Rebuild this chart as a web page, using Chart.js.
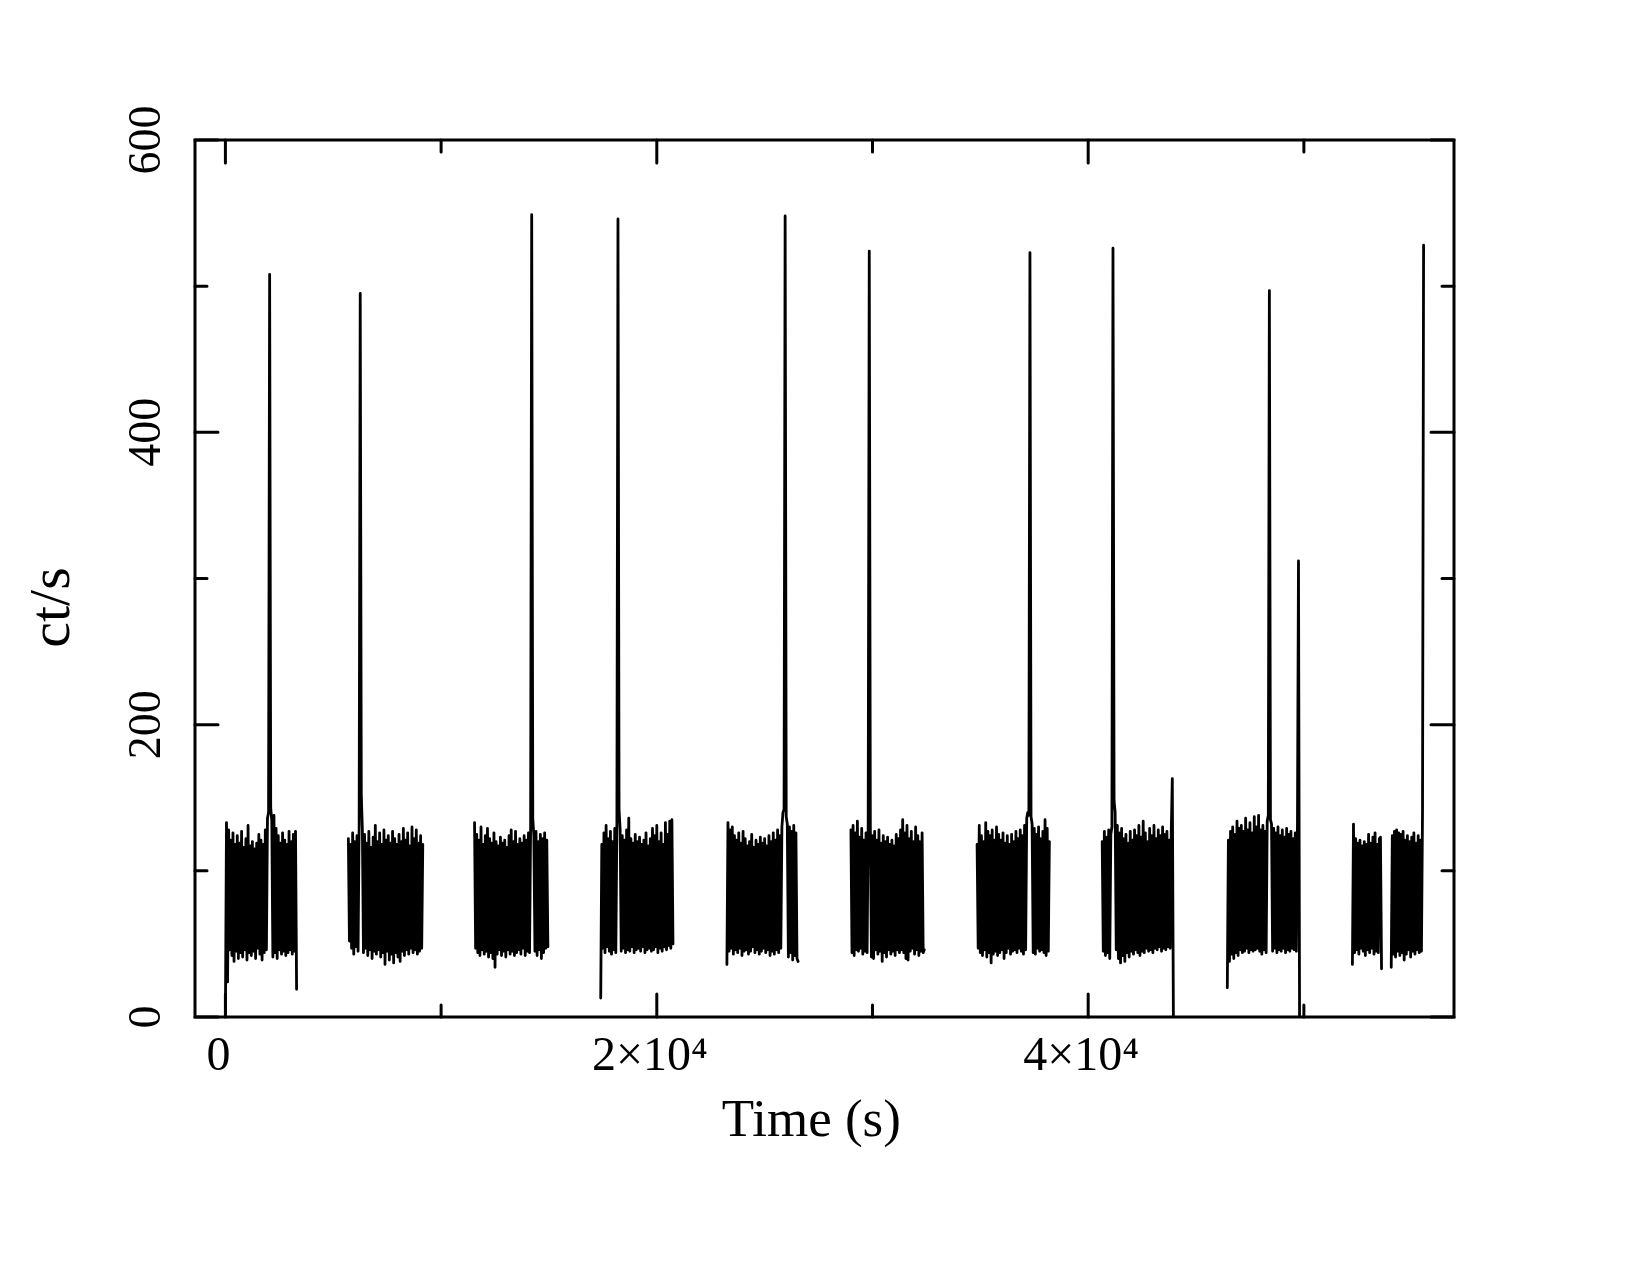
<!DOCTYPE html>
<html>
<head>
<meta charset="utf-8">
<script src="https://cdn.jsdelivr.net/npm/chart.js@4.4.1/dist/chart.umd.min.js"></script>
<style>
  body { margin: 0; background: #fff; }
  #wrap { width: 1650px; height: 1275px; }
</style>
</head>
<body>
<div id="wrap"><canvas id="lc" width="1650" height="1275"></canvas></div>
<script>
// Light curve, 50 s bins, one array per good time interval
const binSize = 50;
const segStart = [0, 5700, 11550, 17400, 23250, 29000, 34850, 40650, 46450, 52250, 54050];

const orbit1 = [2,133,24,128,46,121,42,126,38,118,45,124,40,119,44,127,41,116,46,122,39,131,44,117,42,120,45,115,40,119,47,125,43,121,39,118,44,128,46,136,140,508,143,134,41,138,44,129,40,124,46,119,43,126,45,121,42,118,44,127,46,120,43,125,45,127,19];
const orbit2 = [122,52,118,47,126,43,120,48,124,45,131,495,152,128,44,125,47,119,42,127,46,116,40,123,45,131,43,120,46,126,41,118,44,128,36,121,45,124,39,119,43,127,37,122,44,118,41,125,38,120,45,129,42,121,46,126,43,117,47,130,44,122,46,128,43,119,45,124,47,118];
const orbit3 = [133,47,125,44,121,42,130,46,118,43,124,45,129,41,122,44,119,40,126,34,120,43,117,46,123,42,119,45,121,41,116,46,124,43,128,45,120,42,127,44,118,46,122,43,119,47,124,42,121,45,126,44,131,549,136,124,45,127,42,120,46,125,40,122,44,126,47,121,48];
const orbit4 = [13,118,47,126,44,131,48,122,45,127,43,120,46,129,44,133,546,142,128,45,124,47,121,44,128,46,136,45,122,48,119,44,125,46,120,47,123,45,118,48,121,44,126,46,117,47,122,45,129,46,124,48,131,44,120,47,126,45,118,48,133,46,125,49,134,47,135,50];
const orbit5 = [36,133,45,128,47,130,43,124,46,121,44,126,47,119,42,127,45,122,46,117,43,120,45,125,48,116,44,121,46,118,43,123,45,119,47,122,44,117,46,124,42,120,45,126,43,121,46,128,44,124,47,130,140,142,548,137,132,41,130,44,127,39,131,42,126,40,38];
const orbit6 = [128,44,131,42,126,46,134,45,123,47,129,43,121,45,126,44,133,524,130,41,124,40,127,46,121,43,128,45,119,38,124,44,120,41,123,46,118,43,121,45,117,42,125,46,122,44,128,46,135,44,126,40,131,39,122,45,127,47,120,43,130,46,124,42,120,45,126,44,46];
const orbit7 = [118,47,131,44,124,42,120,46,133,41,127,44,124,37,128,43,121,45,130,42,125,44,121,46,126,40,119,44,124,47,118,43,125,45,120,46,127,44,122,47,128,45,124,43,131,46,136,140,138,523,137,132,44,129,43,125,47,130,45,122,46,127,44,135,42,129,45,120];
const orbit8 = [120,45,127,42,123,44,128,40,125,130,526,148,140,46,131,40,126,37,129,42,122,38,125,44,119,41,127,45,121,43,128,46,124,44,131,42,123,45,134,44,126,47,120,45,129,46,124,44,131,47,122,46,128,48,124,45,130,47,125,46,127,48,121,47,126,163,0];
const orbit9 = [20,121,38,127,43,130,40,125,44,134,42,129,46,131,44,127,45,136,47,128,44,133,46,126,45,137,46,130,47,138,45,128,43,131,46,127,44,134,138,497,135,132,45,129,47,126,44,130,46,124,45,128,47,123,44,129,46,125,45,127,47,122,46,126,45,124,312,0];
const orbit10a = [36,132,44,122,46,119,43,121,47,117,45,120,42,118,46,125,44,119,47,123,43,126,45,118,44,122,123,33];
const orbit10b = [34,124,43,127,41,128,45,126,42,125,44,127,39,121,43,124,46,120,41,123,45,126,43,119,46,124,44,121,45,140,528];

const segments = [orbit1, orbit2, orbit3, orbit4, orbit5, orbit6, orbit7, orbit8, orbit9, orbit10a, orbit10b];

// axis ticks
const xMajor = [0, 20000, 40000];
const xMajorLabels = ['0', '2×10⁴', '4×10⁴'];
const xMinor = [10000, 30000, 50000];
const yMajor = [0, 200, 400, 600];
const yMajorLabels = ['0', '200', '400', '600'];
const yMinor = [100, 300, 500];

// build points, null between intervals so the line breaks
let points = [];
segments.forEach((vals, k) => {
  vals.forEach((v, i) => {
    points.push({ x: segStart[k] + i * binSize, y: v });
  });
  points.push({ x: segStart[k] + vals.length * binSize, y: null });
});

// box frame with inward ticks on all four sides
const frameTicks = {
  id: 'frameTicks',
  afterDraw(chart) {
    const { ctx, chartArea: a, scales: { x, y } } = chart;
    ctx.save();
    ctx.strokeStyle = '#000';
    ctx.lineWidth = 3;
    ctx.lineJoin = 'miter';
    ctx.strokeRect(a.left, a.top, a.right - a.left, a.bottom - a.top);
    ctx.lineCap = 'round';
    const xTicks = (vals, len) => {
      vals.forEach(v => {
        const px = x.getPixelForValue(v);
        ctx.beginPath();
        ctx.moveTo(px, a.bottom);
        ctx.lineTo(px, a.bottom - len);
        ctx.moveTo(px, a.top);
        ctx.lineTo(px, a.top + len);
        ctx.stroke();
      });
    };
    const yTicks = (vals, len) => {
      vals.forEach(v => {
        const py = y.getPixelForValue(v);
        ctx.beginPath();
        ctx.moveTo(a.left, py);
        ctx.lineTo(a.left + len, py);
        ctx.moveTo(a.right, py);
        ctx.lineTo(a.right - len, py);
        ctx.stroke();
      });
    };
    xTicks(xMajor, 23);
    xTicks(xMinor, 12);
    yTicks(yMajor, 23);
    yTicks(yMinor, 12);
    ctx.restore();
  }
};

const serif = 'Liberation Serif';

new Chart(document.getElementById('lc'), {
  type: 'line',
  data: {
    datasets: [{
      data: points,
      borderColor: '#000',
      borderWidth: 2.8,
      pointRadius: 0,
      tension: 0,
      spanGaps: false,
      borderJoinStyle: 'round',
      borderCapStyle: 'round'
    }]
  },
  options: {
    responsive: false,
    animation: false,
    events: [],
    layout: { padding: { top: 140, right: 196, left: 0, bottom: 0 } },
    plugins: {
      legend: { display: false },
      tooltip: { enabled: false }
    },
    scales: {
      x: {
        type: 'linear',
        min: -1410,
        max: 56960,
        grid: { display: false, drawTicks: false },
        border: { display: false },
        afterBuildTicks: s => { s.ticks = xMajor.map(v => ({ value: v })); },
        ticks: {
          autoSkip: false,
          maxRotation: 0,
          padding: 12,
          labelOffset: -7,
          color: '#000',
          font: { family: serif, size: 48 },
          callback: v => {
            const i = xMajor.indexOf(v);
            return i < 0 ? '' : xMajorLabels[i];
          }
        },
        title: {
          display: true,
          text: 'Time (s)  ',
          color: '#000',
          font: { family: serif, size: 53 },
          padding: { top: 0, bottom: 121 }
        },
        afterFit: s => { s.height = 258; }
      },
      y: {
        type: 'linear',
        min: 0,
        max: 600,
        grid: { display: false, drawTicks: false },
        border: { display: false },
        afterBuildTicks: s => { s.ticks = yMajor.map(v => ({ value: v })); },
        ticks: {
          autoSkip: false,
          minRotation: 90,
          maxRotation: 90,
          crossAlign: 'center',
          padding: 13,
          color: '#000',
          font: { family: serif, size: 46 },
          callback: v => {
            const i = yMajor.indexOf(v);
            return i < 0 ? '' : yMajorLabels[i];
          }
        },
        title: {
          display: true,
          text: 'ct/s    ',
          color: '#000',
          font: { family: serif, size: 58 },
          padding: { top: 19, bottom: 0 }
        },
        afterFit: s => { s.width = 195; }
      }
    }
  },
  plugins: [frameTicks]
});
</script>
</body>
</html>
